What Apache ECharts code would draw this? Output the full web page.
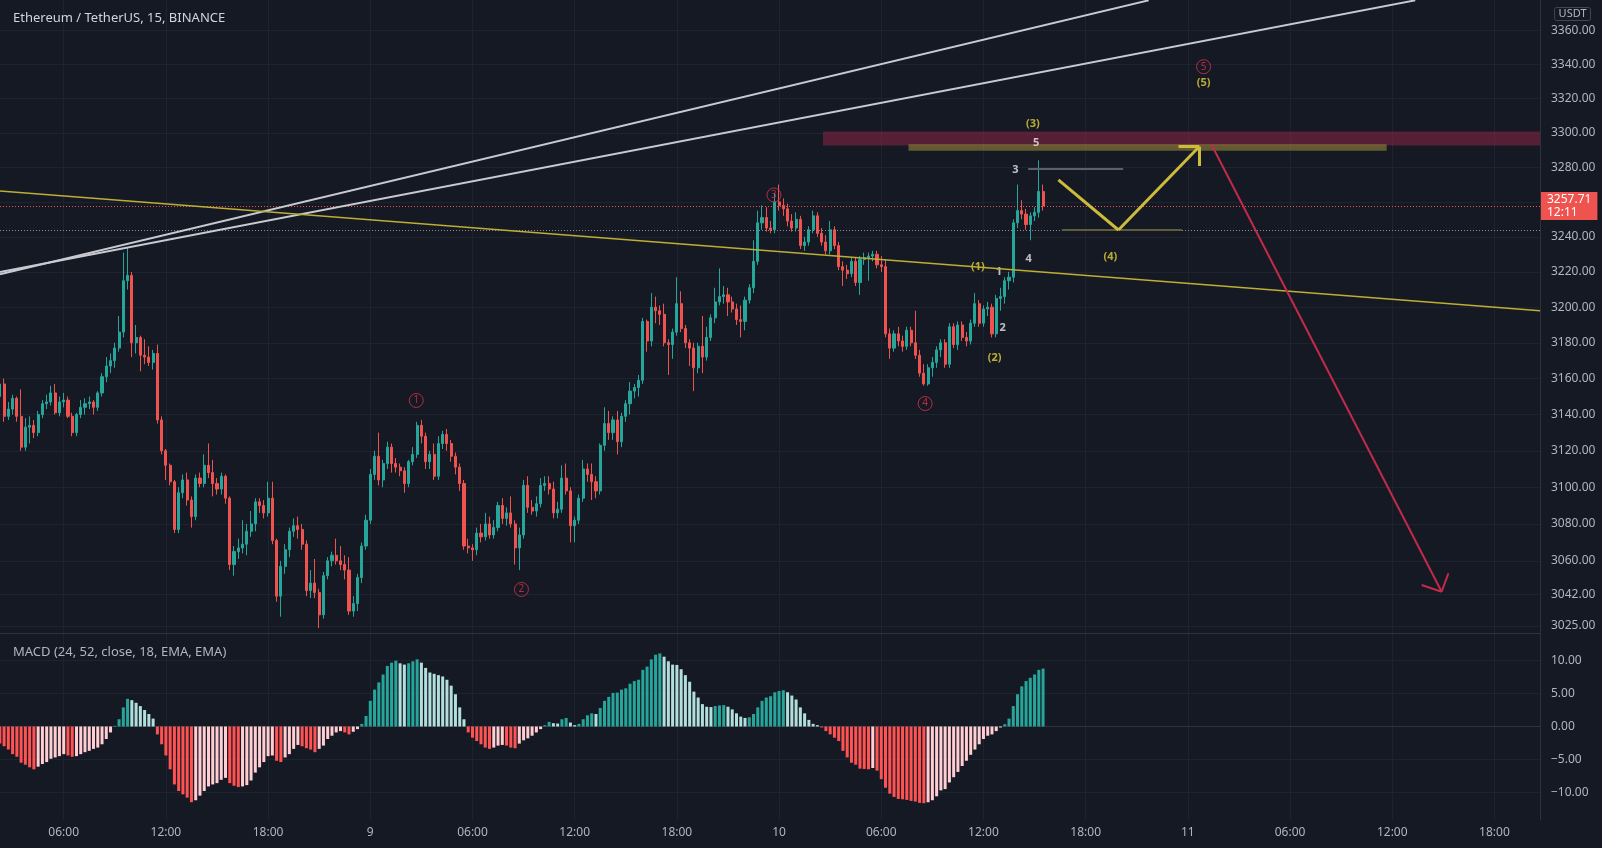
<!DOCTYPE html>
<html>
<head>
<meta charset="utf-8">
<title>Ethereum / TetherUS, 15</title>
<script src="https://cdn.jsdelivr.net/npm/echarts@6/dist/echarts.min.js"></script>
<style>
  html, body { margin: 0; padding: 0; background: #151924; }
  #chart { width: 1602px; height: 848px; }
</style>
</head>
<body>
<div id="chart"></div>
<script>
// x = 15 minute slot counted from day 8 00:00, first candle on screen is slot 9
const firstSlot = 9;

const opens = [
  3150, 3157, 3139, 3143, 3149, 3139, 3122, 3133, 3134, 3130,
  3140, 3146, 3147, 3152, 3141, 3147, 3148, 3139, 3130, 3140,
  3144, 3146, 3147, 3144, 3152, 3161, 3167, 3170, 3177, 3186,
  3215, 3218, 3180, 3183, 3173, 3172, 3169, 3174, 3137, 3120,
  3112, 3103, 3077, 3097, 3104, 3093, 3084, 3105, 3102, 3112,
  3108, 3102, 3099, 3106, 3094, 3058, 3065, 3067, 3069, 3076,
  3080, 3092, 3090, 3086, 3094, 3071, 3041, 3057, 3066, 3076,
  3079, 3077, 3069, 3044, 3048, 3043, 3031, 3052, 3060, 3063,
  3060, 3058, 3055, 3033, 3037, 3051, 3068, 3082, 3107, 3117,
  3104, 3113, 3122, 3113, 3111, 3109, 3102, 3114, 3118, 3134,
  3128, 3114, 3118, 3106, 3124, 3129, 3124, 3117, 3111, 3102,
  3068, 3067, 3066, 3075, 3073, 3080, 3074, 3078, 3090, 3083,
  3086, 3080, 3067, 3074, 3101, 3089, 3087, 3091, 3101, 3102,
  3099, 3086, 3088, 3105, 3098, 3079, 3082, 3094, 3110, 3107,
  3103, 3098, 3123, 3135, 3130, 3137, 3125, 3139, 3146, 3153,
  3155, 3159, 3192, 3181, 3200, 3198, 3196, 3180, 3179, 3186,
  3202, 3188, 3180, 3177, 3166, 3178, 3172, 3183, 3194, 3203,
  3206, 3207, 3203, 3199, 3193, 3192, 3204, 3211, 3226, 3248,
  3251, 3245, 3244, 3260, 3258, 3256, 3249, 3245, 3250, 3235,
  3237, 3244, 3252, 3242, 3237, 3232, 3244, 3235, 3223, 3221,
  3219, 3226, 3214, 3227, 3228, 3229, 3230, 3224, 3223, 3185,
  3177, 3185, 3181, 3178, 3187, 3180, 3173, 3163, 3157, 3166,
  3169, 3176, 3180, 3168, 3189, 3179, 3190, 3183, 3181, 3191,
  3202, 3191, 3199, 3200, 3185, 3205, 3206, 3215, 3217, 3248,
  3255, 3253, 3247, 3252, 3254, 3266
];
const closes = [
  3157, 3139, 3143, 3149, 3139, 3122, 3133, 3134, 3130, 3140,
  3146, 3147, 3152, 3141, 3147, 3148, 3139, 3130, 3140, 3144,
  3146, 3147, 3144, 3152, 3161, 3167, 3170, 3177, 3186, 3215,
  3218, 3180, 3183, 3173, 3172, 3169, 3174, 3137, 3120, 3112,
  3103, 3077, 3097, 3104, 3093, 3084, 3105, 3102, 3112, 3108,
  3102, 3099, 3106, 3094, 3058, 3065, 3067, 3069, 3076, 3080,
  3092, 3090, 3086, 3094, 3071, 3041, 3057, 3066, 3076, 3079,
  3077, 3069, 3044, 3048, 3043, 3031, 3052, 3060, 3063, 3060,
  3058, 3055, 3033, 3037, 3051, 3068, 3082, 3107, 3117, 3104,
  3113, 3122, 3113, 3111, 3109, 3102, 3114, 3118, 3134, 3128,
  3114, 3118, 3106, 3124, 3129, 3124, 3117, 3111, 3102, 3068,
  3067, 3066, 3075, 3073, 3080, 3074, 3078, 3090, 3083, 3086,
  3080, 3067, 3074, 3101, 3089, 3087, 3091, 3101, 3102, 3099,
  3086, 3088, 3105, 3098, 3079, 3082, 3094, 3110, 3107, 3103,
  3098, 3123, 3135, 3130, 3137, 3125, 3139, 3146, 3153, 3155,
  3159, 3192, 3181, 3200, 3198, 3196, 3180, 3179, 3186, 3202,
  3188, 3180, 3177, 3166, 3178, 3172, 3183, 3194, 3203, 3206,
  3207, 3203, 3199, 3193, 3192, 3204, 3211, 3226, 3248, 3251,
  3245, 3244, 3260, 3258, 3256, 3249, 3245, 3250, 3235, 3237,
  3244, 3252, 3242, 3237, 3232, 3244, 3235, 3223, 3221, 3219,
  3226, 3214, 3227, 3228, 3229, 3230, 3224, 3223, 3185, 3177,
  3185, 3181, 3178, 3187, 3180, 3173, 3163, 3157, 3166, 3169,
  3176, 3180, 3168, 3189, 3179, 3190, 3183, 3181, 3191, 3202,
  3191, 3199, 3200, 3185, 3205, 3206, 3215, 3217, 3248, 3255,
  3253, 3247, 3252, 3254, 3266, 3257.71
];
const lows = [
  3146, 3136, 3137, 3140, 3136, 3120, 3120, 3124, 3127, 3128,
  3138, 3143, 3145, 3140, 3139, 3144, 3138, 3128, 3128, 3138,
  3140, 3143, 3140, 3142, 3150, 3158, 3163, 3166, 3175, 3183,
  3210, 3172, 3174, 3164, 3168, 3167, 3165, 3135, 3118, 3104,
  3101, 3075, 3075, 3094, 3090, 3078, 3082, 3100, 3100, 3105,
  3095, 3096, 3096, 3091, 3055, 3052, 3061, 3064, 3063, 3073,
  3076, 3086, 3083, 3084, 3069, 3038, 3030, 3053, 3062, 3073,
  3072, 3066, 3041, 3040, 3040, 3024, 3029, 3050, 3057, 3058,
  3055, 3050, 3031, 3030, 3033, 3048, 3066, 3080, 3104, 3101,
  3100, 3110, 3108, 3108, 3106, 3097, 3100, 3112, 3116, 3124,
  3110, 3110, 3104, 3104, 3121, 3120, 3114, 3107, 3098, 3066,
  3064, 3060, 3063, 3070, 3071, 3072, 3072, 3076, 3080, 3079,
  3078, 3058, 3055, 3072, 3086, 3085, 3084, 3089, 3098, 3096,
  3083, 3083, 3086, 3096, 3070, 3070, 3080, 3092, 3103, 3093,
  3094, 3096, 3120, 3126, 3126, 3118, 3122, 3136, 3140, 3149,
  3150, 3157, 3175, 3178, 3191, 3190, 3178, 3162, 3171, 3184,
  3186, 3177, 3167, 3153, 3163, 3163, 3170, 3181, 3191, 3201,
  3202, 3195, 3197, 3190, 3183, 3187, 3202, 3208, 3224, 3244,
  3243, 3242, 3242, 3255, 3252, 3246, 3243, 3243, 3233, 3232,
  3235, 3242, 3240, 3235, 3230, 3230, 3233, 3221, 3212, 3216,
  3217, 3212, 3207, 3224, 3215, 3226, 3222, 3220, 3183, 3171,
  3175, 3178, 3175, 3176, 3178, 3171, 3161, 3156, 3156, 3161,
  3166, 3172, 3166, 3166, 3177, 3176, 3181, 3178, 3179, 3189,
  3189, 3189, 3195, 3183, 3183, 3198, 3202, 3210, 3214, 3245,
  3250, 3244, 3238, 3249, 3251, 3255
];
const highs = [
  3160, 3160, 3147, 3151, 3150, 3154, 3138, 3139, 3137, 3142,
  3148, 3151, 3156, 3157, 3150, 3152, 3150, 3141, 3141, 3148,
  3149, 3150, 3148, 3153, 3163, 3172, 3174, 3180, 3195, 3231,
  3234, 3220, 3190, 3184, 3182, 3178, 3176, 3179, 3139, 3121,
  3113, 3104, 3100, 3107, 3108, 3095, 3107, 3108, 3118, 3124,
  3115, 3105, 3108, 3107, 3095, 3068, 3072, 3082, 3080, 3087,
  3094, 3094, 3093, 3103, 3103, 3072, 3060, 3069, 3078, 3083,
  3084, 3080, 3071, 3055, 3061, 3045, 3054, 3062, 3065, 3072,
  3068, 3063, 3062, 3041, 3053, 3070, 3085, 3110, 3120, 3130,
  3115, 3125, 3124, 3116, 3113, 3111, 3115, 3122, 3136, 3137,
  3130, 3120, 3124, 3128, 3131, 3132, 3126, 3119, 3113, 3104,
  3072, 3069, 3078, 3080, 3086, 3084, 3082, 3092, 3094, 3089,
  3095, 3082, 3078, 3104, 3106, 3093, 3095, 3105, 3106, 3106,
  3103, 3092, 3112, 3113, 3100, 3084, 3096, 3115, 3113, 3113,
  3106, 3124, 3144, 3142, 3139, 3142, 3141, 3148, 3158, 3157,
  3162, 3194, 3193, 3208, 3206, 3201, 3202, 3182, 3188, 3217,
  3209, 3190, 3182, 3180, 3180, 3195, 3189, 3196, 3211, 3222,
  3212, 3211, 3206, 3202, 3201, 3206, 3213, 3238, 3255, 3258,
  3257, 3249, 3265, 3270, 3262, 3259, 3253, 3254, 3252, 3240,
  3246, 3255, 3254, 3245, 3241, 3249, 3246, 3237, 3226, 3224,
  3228, 3228, 3229, 3231, 3231, 3232, 3232, 3229, 3227, 3188,
  3187, 3189, 3184, 3189, 3189, 3198, 3176, 3168, 3168, 3172,
  3178, 3182, 3182, 3191, 3191, 3192, 3192, 3186, 3193, 3208,
  3204, 3201, 3203, 3202, 3207, 3211, 3217, 3220, 3250, 3270,
  3261, 3256, 3254, 3257, 3284, 3270
];

// MACD (24, 52, close, 18) histogram, one value per candle
const macdHist = [
  -2.6, -3.0, -3.5, -4.2, -4.6, -5.5, -5.8, -6.2, -6.5, -6.1,
  -5.7, -5.4, -4.9, -4.7, -4.5, -4.2, -4.4, -4.6, -4.5, -4.2,
  -3.9, -3.7, -3.4, -3.2, -2.7, -1.9, -0.9, 0.1, 1.1, 2.9,
  4.2, 4.0, 3.6, 3.1, 2.5, 1.9, 1.2, -1.2, -2.7, -4.4,
  -6.5, -8.8, -9.8, -10.3, -10.8, -11.5, -11.2, -10.5, -9.8, -9.1,
  -8.8, -8.6, -8.1, -7.8, -8.6, -9.0, -9.2, -9.1, -8.9, -8.2,
  -7.0, -6.2, -5.4, -4.5, -4.4, -5.2, -5.4, -4.7, -4.2, -3.4,
  -2.8, -3.0, -3.3, -3.5, -3.9, -3.4, -2.9, -1.9, -1.4, -0.9,
  -0.7, -0.9, -1.2, -0.8, -0.4, 0.4, 1.6, 3.9, 5.6, 6.7,
  7.9, 9.2, 9.7, 10.0, 9.6, 9.4, 9.6, 9.9, 10.2, 9.7,
  8.9, 8.2, 8.0, 7.8, 7.6, 7.1, 6.2, 4.9, 2.9, 1.1,
  -0.9, -1.7, -2.2, -2.7, -3.2, -3.4, -3.2, -2.9, -2.8, -2.9,
  -3.2, -3.3, -2.6, -2.1, -1.8, -1.4, -0.9, -0.4, 0.2, 0.7,
  0.5, 0.45, 1.1, 1.3, 0.6, 0.2, 0.4, 1.1, 1.7, 2.0,
  1.9, 2.8, 3.9, 4.5, 5.1, 5.15, 5.6, 5.8, 6.5, 6.9,
  7.1, 8.6, 9.1, 10.2, 10.9, 11.1, 10.6, 9.9, 9.4, 9.35,
  8.7, 7.8, 6.8, 5.3, 4.4, 3.4, 3.0, 2.95, 3.1, 3.2,
  3.25, 3.0, 2.6, 2.0, 1.5, 1.3, 1.4, 1.9, 2.9, 3.9,
  4.4, 4.6, 5.2, 5.4, 5.5, 5.2, 4.7, 4.1, 2.9, 2.0,
  1.0, 0.4, 0.2, -0.15, -0.7, -1.2, -1.7, -2.2, -3.7, -4.7,
  -5.5, -5.8, -6.4, -6.45, -6.5, -6.3, -6.7, -8.0, -9.3, -10.2,
  -10.7, -11.0, -11.05, -11.15, -11.3, -11.4, -11.6, -11.65, -11.5, -11.2,
  -10.6, -9.7, -9.5, -8.5, -7.7, -6.9, -6.0, -5.2, -4.3, -3.5,
  -2.7, -1.9, -1.4, -1.2, -0.7, -0.15, 0.35, 1.2, 3.1, 4.9,
  6.1, 6.9, 7.4, 7.9, 8.6, 8.8
];

const lastPrice = 3257.71;
const prevClose = 3243.9;
const priceTicks = [3025, 3042, 3060, 3080, 3100, 3120, 3140, 3160, 3180, 3200,
  3220, 3240, 3260, 3280, 3300, 3320, 3340, 3360];
const macdTicks = [-10, -5, 0, 5, 10];
// every 6 hours, from 06:00 on day 8 to 18:00 on day 11
const timeTicks = [24, 48, 72, 96, 120, 144, 168, 192, 216, 240, 264, 288, 312, 336, 360];

// drawings, in [slot, price]
const whiteTrendA = [[9.04, 3218.6], [278.8, 3378]];
const whiteTrendB = [[9.04, 3220.0], [341.4, 3378]];
const yellowTrend = [[9.04, 3266.3], [370.7, 3198.0]];
const sellZone = [[202.3, 3300.8], [370.7, 3292.6]];
const targetBand = [[222.4, 3293.3], [334.7, 3289.6]];
const wave3Line = [[250.5, 3279.4], [272.8, 3279.4]];
const wave4Line = [[258.4, 3243.9], [286.6, 3243.9]];
const zigzag = [[257.6, 3272.7], [271.7, 3243.9], [290.7, 3292.0]];
const zigzagHead = [[285.8, 3292.0], [290.7, 3292.0], [290.7, 3280.7]];
const dropArrow = [[293.6, 3292.9], [347.6, 3043.4]];
const dropHead = [[342.9, 3047.0], [347.6, 3043.4], [349.2, 3053.3]];

const circledWaves = ['1', '2', '3', '4', '5'];
const circledAt = [[106.8, 3147.8], [131.5, 3044.6], [190.8, 3264.0], [226.3, 3146.1], [291.7, 3338.7]];
const yellowWaves = ['(1)', '(2)', '(3)', '(4)', '(5)'];
const yellowAt = [[238.7, 3222.7], [242.6, 3171.3], [251.6, 3305.0], [269.8, 3228.7], [291.7, 3329.3]];
const whiteWaves = ['1', '2', '3', '4', '5'];
const whiteAt = [[243.6, 3220.2], [244.5, 3188.1], [247.5, 3278.4], [250.6, 3227.4], [252.4, 3294.3]];

const gridColor = '#1f2330';
const axisColor = '#2e323e';
const textColor = '#b2b5be';
const font = 'Noto Sans';

const candleData = closes.map((c, k) => [firstSlot + k, opens[k], c, lows[k], highs[k]]);

const histData = macdHist.map((v, k) => {
  const prev = k > 0 ? macdHist[k - 1] : v;
  let color;
  if (v >= 0) color = v >= prev ? '#26a69a' : '#b2dfdb';
  else color = v <= prev ? '#ff5252' : '#ffcdd2';
  return { value: [firstSlot + k, v], itemStyle: { color: color } };
});

function seg(a, b, style) {
  return [{ coord: a, lineStyle: style }, { coord: b }];
}
function path(points, style) {
  const out = [];
  for (let k = 1; k < points.length; k++) out.push(seg(points[k - 1], points[k], style));
  return out;
}

const whiteStyle = { color: '#c9cad1', width: 2, type: 'solid' };
const yellowThin = { color: '#bfae35', width: 1.6, type: 'solid' };
const yellowThick = { color: '#cdbb3c', width: 3, type: 'solid' };
const redArrowStyle = { color: '#c22a4a', width: 2, type: 'solid' };

const timeLabel = v => {
  const slot = v % 96;
  if (slot === 0) return String(8 + v / 96);
  const h = slot / 4;
  return (h < 10 ? '0' : '') + h + ':00';
};

const chart = echarts.init(document.getElementById('chart'));

const option = {
  backgroundColor: '#151924',
  animation: false,
  title: [
    { text: 'Ethereum / TetherUS, 15, BINANCE', left: 8, top: 7,
      textStyle: { color: '#d1d4dc', fontSize: 13, fontWeight: 'normal', fontFamily: font } },
    { text: 'MACD (24, 52, close, 18, EMA, EMA)', left: 8, top: 641,
      textStyle: { color: textColor, fontSize: 13, fontWeight: 'normal', fontFamily: font } }
  ],
  graphic: [
    { type: 'text', right: 11, top: 7, z: 100,
      style: { text: 'USDT', fill: textColor, font: '11px "Noto Sans"',
        borderColor: '#434651', borderWidth: 1, borderRadius: 2, padding: [1, 4] } }
  ],
  grid: [
    { left: 0, right: 62, top: 0, height: 633 },
    { left: 0, right: 62, top: 633, height: 187 }
  ],
  xAxis: [
    { type: 'value', gridIndex: 0, min: 9.04, max: 370.7,
      axisLine: { show: true, lineStyle: { color: axisColor } },
      axisTick: { show: false, customValues: timeTicks },
      axisLabel: { show: false, customValues: timeTicks },
      splitLine: { show: true, lineStyle: { color: gridColor } } },
    { type: 'value', gridIndex: 1, min: 9.04, max: 370.7,
      axisLine: { show: true, lineStyle: { color: axisColor } },
      axisTick: { show: false, customValues: timeTicks },
      axisLabel: { customValues: timeTicks, formatter: timeLabel, color: textColor, fontSize: 12,
        fontFamily: font, margin: 7 },
      splitLine: { show: true, lineStyle: { color: gridColor } } }
  ],
  yAxis: [
    { type: 'log', gridIndex: 0, position: 'right', min: 3021.3, max: 3378.2,
      axisLine: { show: true, lineStyle: { color: axisColor } },
      axisTick: { show: false, customValues: priceTicks },
      axisLabel: { customValues: priceTicks, formatter: v => v.toFixed(2),
        color: textColor, fontSize: 12, fontFamily: font, margin: 11 },
      splitLine: { show: true, lineStyle: { color: gridColor } } },
    { type: 'value', gridIndex: 1, position: 'right', min: -14.2, max: 14.2,
      axisLine: { show: true, lineStyle: { color: axisColor } },
      axisTick: { show: false, customValues: macdTicks },
      axisLabel: { customValues: macdTicks,
        formatter: v => (v < 0 ? '\u2212' : '') + Math.abs(v).toFixed(2),
        color: textColor, fontSize: 12, fontFamily: font, margin: 11 },
      splitLine: { show: true, lineStyle: { color: gridColor } } }
  ],
  series: [
    {
      name: 'ETHUSDT', type: 'candlestick', xAxisIndex: 0, yAxisIndex: 0,
      data: candleData, encode: { x: 0, y: [1, 2, 3, 4] },
      barWidth: 2.6,
      itemStyle: { color: '#26a69a', color0: '#ef5350', borderColor: '#26a69a', borderColor0: '#ef5350', borderWidth: 1 }
    },
    {
      name: 'MACD', type: 'bar', xAxisIndex: 1, yAxisIndex: 1,
      data: histData, barWidth: 3
    },
    {
      name: 'drawings', type: 'line', xAxisIndex: 0, yAxisIndex: 0, data: [], clip: false,
      markArea: {
        silent: true,
        data: [
          [{ coord: sellZone[0], itemStyle: { color: 'rgba(150,40,70,0.5)' } }, { coord: sellZone[1] }],
          [{ coord: targetBand[0], itemStyle: { color: 'rgba(175,155,60,0.5)' } }, { coord: targetBand[1] }]
        ]
      },
      markLine: {
        silent: true, symbol: ['none', 'none'], label: { show: false },
        data: [
          { yAxis: prevClose, lineStyle: { color: '#8a8e99', width: 1, type: [1, 2] } },
          { yAxis: lastPrice, lineStyle: { color: '#ef5350', width: 1, type: [1, 2] },
            label: { show: true, position: 'end', distance: 1, formatter: '3257.71\n12:11',
              backgroundColor: '#ef5350', color: '#ffffff', fontSize: 12, fontFamily: font,
              lineHeight: 13, padding: [1, 6, 1, 6], align: 'left' } },
          seg(whiteTrendA[0], whiteTrendA[1], whiteStyle),
          seg(whiteTrendB[0], whiteTrendB[1], whiteStyle),
          seg(yellowTrend[0], yellowTrend[1], yellowThin),
          seg(wave3Line[0], wave3Line[1], { color: '#5d606b', width: 2, type: 'solid' }),
          seg(wave4Line[0], wave4Line[1], { color: '#5e5c3a', width: 2, type: 'solid' })
        ].concat(path(zigzag, yellowThick), path(zigzagHead, yellowThick),
          path(dropArrow, redArrowStyle), path(dropHead, redArrowStyle))
      }
    },
    {
      name: 'circled', type: 'scatter', xAxisIndex: 0, yAxisIndex: 0, data: circledAt,
      symbol: 'circle', symbolSize: 14, silent: true,
      itemStyle: { color: 'rgba(0,0,0,0)', borderColor: '#d8324e', borderWidth: 1 },
      label: { show: true, position: 'inside', formatter: p => circledWaves[p.dataIndex],
        color: '#d8324e', fontSize: 10, fontFamily: font }
    },
    {
      name: 'minor', type: 'scatter', xAxisIndex: 0, yAxisIndex: 0, data: yellowAt,
      symbolSize: 0, silent: true,
      label: { show: true, position: 'inside', formatter: p => yellowWaves[p.dataIndex],
        color: '#e3cf3b', fontSize: 11, fontWeight: 'bold', fontFamily: font }
    },
    {
      name: 'subminor', type: 'scatter', xAxisIndex: 0, yAxisIndex: 0, data: whiteAt,
      symbolSize: 0, silent: true,
      label: { show: true, position: 'inside', formatter: p => whiteWaves[p.dataIndex],
        color: '#e8e8ea', fontSize: 11, fontWeight: 'bold', fontFamily: font }
    }
  ]
};

chart.setOption(option);
</script>
</body>
</html>
